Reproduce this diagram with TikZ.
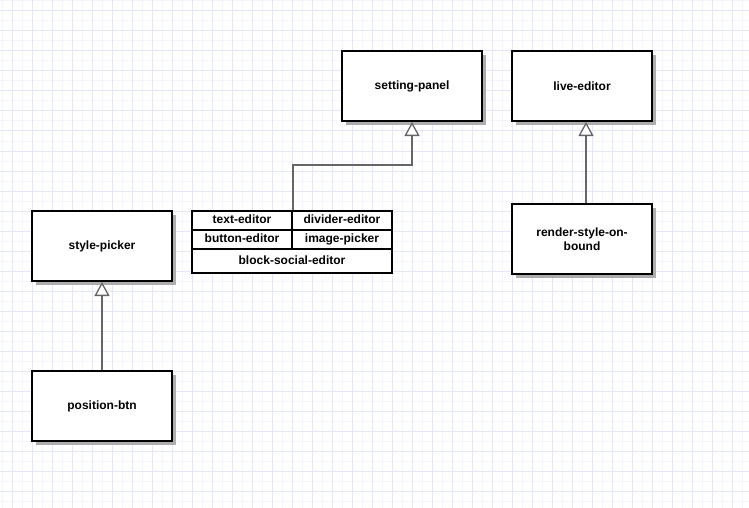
\documentclass[tikz,border=0pt]{standalone}
\usepackage{fontspec}
\setmainfont{Liberation Sans}
\usepackage{xcolor}
\usetikzlibrary{arrows.meta,positioning,shadows}

\definecolor{gridlight}{HTML}{F4F4FD}
\definecolor{griddark}{HTML}{E6E6FB}
\definecolor{linkgray}{HTML}{666666}

\begin{document}
\begin{tikzpicture}[x=1pt,y=-1pt,
    umlbox/.style={rectangle,draw,line width=2pt,fill=white,minimum width=140pt,minimum height=70pt,
      align=center,font=\fontsize{12}{14}\selectfont\bfseries,
      drop shadow={shadow xshift=4pt,shadow yshift=-4pt,fill=black!32,opacity=1}},
    cell/.style={rectangle,draw,line width=2pt,fill=white,inner sep=0pt,text height=9pt,text depth=2.5pt,
      font=\fontsize{12}{14}\selectfont\bfseries},
    inherit/.style={draw=linkgray,line width=1.3pt,-{Triangle[length=14pt,width=15pt,fill=white]}}]
    % Background grid
    \useasboundingbox (0,0) rectangle (749,508);
    \fill[white] (0,0) rectangle (749,508);
    \foreach \x in {2,12,...,742} \draw[gridlight,line width=1pt] (\x,0) -- (\x,508);
    \foreach \y in {1,11,...,501} \draw[gridlight,line width=1pt] (0,\y) -- (749,\y);
    \foreach \x in {12,32,...,732} \draw[griddark,line width=1pt] (\x,0) -- (\x,508);
    \foreach \y in {11,31,...,491} \draw[griddark,line width=1pt] (0,\y) -- (749,\y);

    % Nodes
    \node[umlbox] (setting) at (412,86) {setting-panel};
    \node[umlbox] (live) at (582,86) {live-editor};
    \node[umlbox] (picker) at (102,246) {style-picker};
    \node[umlbox] (posbtn) at (102,406) {position-btn};
    \node[umlbox] (render) at (582,239) {render-style-on-\\bound};

    % Editor table
    \node[cell,minimum width=100pt,minimum height=19pt] (texted) at (242,220.5) {text-editor};
    \node[cell,minimum width=100pt,minimum height=19pt] (divided) at (342,220.5) {divider-editor};
    \node[cell,minimum width=100pt,minimum height=19pt] (buttoned) at (242,239.5) {button-editor};
    \node[cell,minimum width=100pt,minimum height=19pt] (imgpick) at (342,239.5) {image-picker};
    \node[cell,minimum width=200pt,minimum height=24pt] (social) at (292,261) {block-social-editor};

    % Arrows
    \draw[inherit] (posbtn) -- (picker);
    \draw[inherit] ([xshift=4pt]render.north) -- ([xshift=4pt]live.south);
    \draw[inherit] (texted.north east) -- ++(0,-45) -| (setting.south);
\end{tikzpicture}
\end{document}
